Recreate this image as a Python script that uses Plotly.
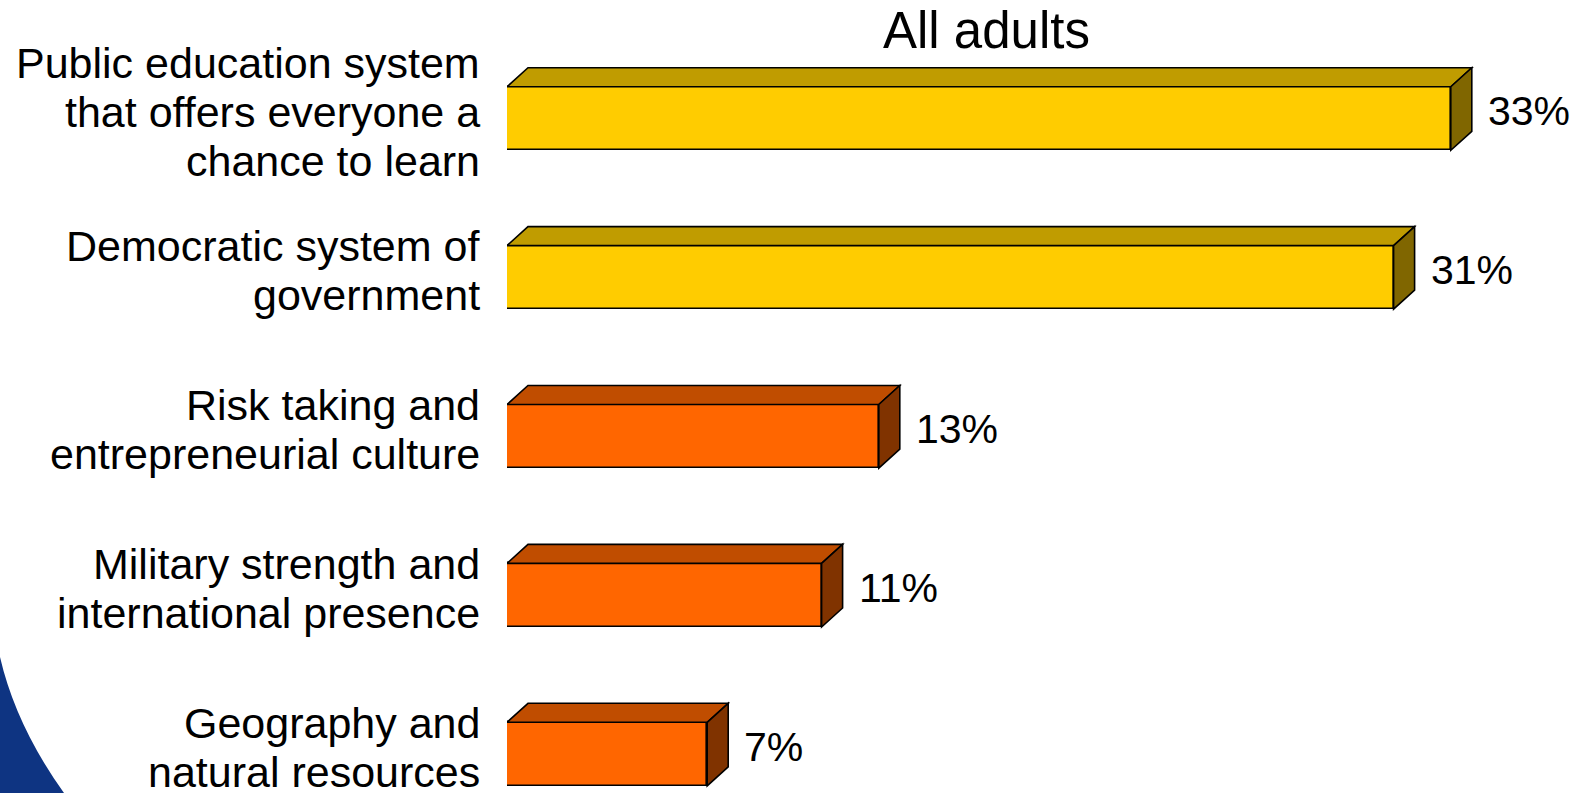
import plotly.graph_objects as go

# Survey results: share of all adults naming each factor
categories = [
    "Public education system<br>that offers everyone a<br>chance to learn",
    "Democratic system of<br>government",
    "Risk taking and<br>entrepreneurial culture",
    "Military strength and<br>international presence",
    "Geography and<br>natural resources",
]
values = [33, 31, 13, 11, 7]
value_labels = ["33%", "31%", "13%", "11%", "7%"]

# Face colours: front, top, side
GOLD = ("#FFCC00", "#C09C00", "#806600")
ORANGE = ("#FF6600", "#C04D00", "#803300")
palette = [GOLD, GOLD, ORANGE, ORANGE, ORANGE]

W, H = 1586, 793
LEFT = 507
PX_PER_UNIT = 28.6
ROW_PX = 158.9
FIRST_ROW_PX = 118.5

x_max = (W - LEFT) / PX_PER_UNIT
y_top = -FIRST_ROW_PX / ROW_PX
y_bot = (H - FIRST_ROW_PX) / ROW_PX

BAR_W = 0.40                 # bar thickness in row units
DX = 21 / PX_PER_UNIT        # extrusion depth, horizontal (data units)
DY = 19 / ROW_PX             # extrusion depth, vertical (row units)
LINE_PX = 49                 # line pitch of the category labels
LABEL_FONT = dict(family="Liberation Sans, Arial, sans-serif", size=43, color="black")

idx = list(range(len(values)))

fig = go.Figure()
fig.add_trace(go.Bar(
    x=values, y=idx, orientation="h", width=BAR_W,
    marker=dict(color=[p[0] for p in palette], line=dict(color="black", width=1.6)),
    hoverinfo="skip", showlegend=False,
))

shapes = []
for i, (v, p) in enumerate(zip(values, palette)):
    top = i - BAR_W / 2
    bot = i + BAR_W / 2
    # top face
    shapes.append(dict(
        type="path", xref="x", yref="y",
        path=f"M 0,{top} L {DX},{top - DY} L {v + DX},{top - DY} L {v},{top} Z",
        fillcolor=p[1], line=dict(color="black", width=1.6), layer="above",
    ))
    # side face
    shapes.append(dict(
        type="path", xref="x", yref="y",
        path=f"M {v},{top} L {v + DX},{top - DY} L {v + DX},{bot - DY} L {v},{bot} Z",
        fillcolor=p[2], line=dict(color="black", width=1.6), layer="above",
    ))

# blue corner swoosh
def px(xp, yp):
    return (xp - LEFT) / (W - LEFT), 1 - yp / H

a = px(0, 657); c = px(16, 726); b = px(64, 793); d = px(0, 793)
shapes.append(dict(
    type="path", xref="paper", yref="paper",
    path=f"M {a[0]},{a[1]} Q {c[0]},{c[1]} {b[0]},{b[1]} L {d[0]},{d[1]} Z",
    fillcolor="#0E3482", line=dict(width=0), layer="below",
))

annotations = []

# category labels, right-aligned, one annotation per line for a tight line pitch
label_x = (482 - LEFT) / (W - LEFT)
for i, cat in enumerate(categories):
    lines = cat.split("<br>")
    n = len(lines)
    for k, line in enumerate(lines):
        annotations.append(dict(
            x=label_x, y=i, xref="paper", yref="y",
            text=line, showarrow=False, xanchor="right", yanchor="middle",
            yshift=-((k - (n - 1) / 2) * LINE_PX) + 7,
            font=LABEL_FONT,
        ))

# value labels beside each bar
for i, (v, t) in enumerate(zip(values, value_labels)):
    annotations.append(dict(
        x=v + DX, y=i - DY / 2 + 0.015, xref="x", yref="y",
        text=t, showarrow=False, xanchor="left", yanchor="middle", xshift=14,
        font=dict(family="Liberation Sans, Arial, sans-serif", size=41, color="black"),
    ))

title_x = (986 - LEFT) / (W - LEFT)
annotations.append(dict(
    x=title_x, y=1 - 31 / H, xref="paper", yref="paper",
    text="All adults", showarrow=False, xanchor="center", yanchor="middle",
    font=dict(family="Liberation Sans, Arial, sans-serif", size=51, color="black"),
))

fig.update_layout(
    width=W, height=H,
    margin=dict(l=LEFT, r=0, t=0, b=0, autoexpand=False),
    paper_bgcolor="white", plot_bgcolor="white",
    shapes=shapes, annotations=annotations,
    xaxis=dict(range=[0, x_max], visible=False, fixedrange=True, automargin=False),
    yaxis=dict(
        range=[y_bot, y_top], visible=False, fixedrange=True, automargin=False,
    ),
    bargap=0,
)

fig.write_html("out.html")
